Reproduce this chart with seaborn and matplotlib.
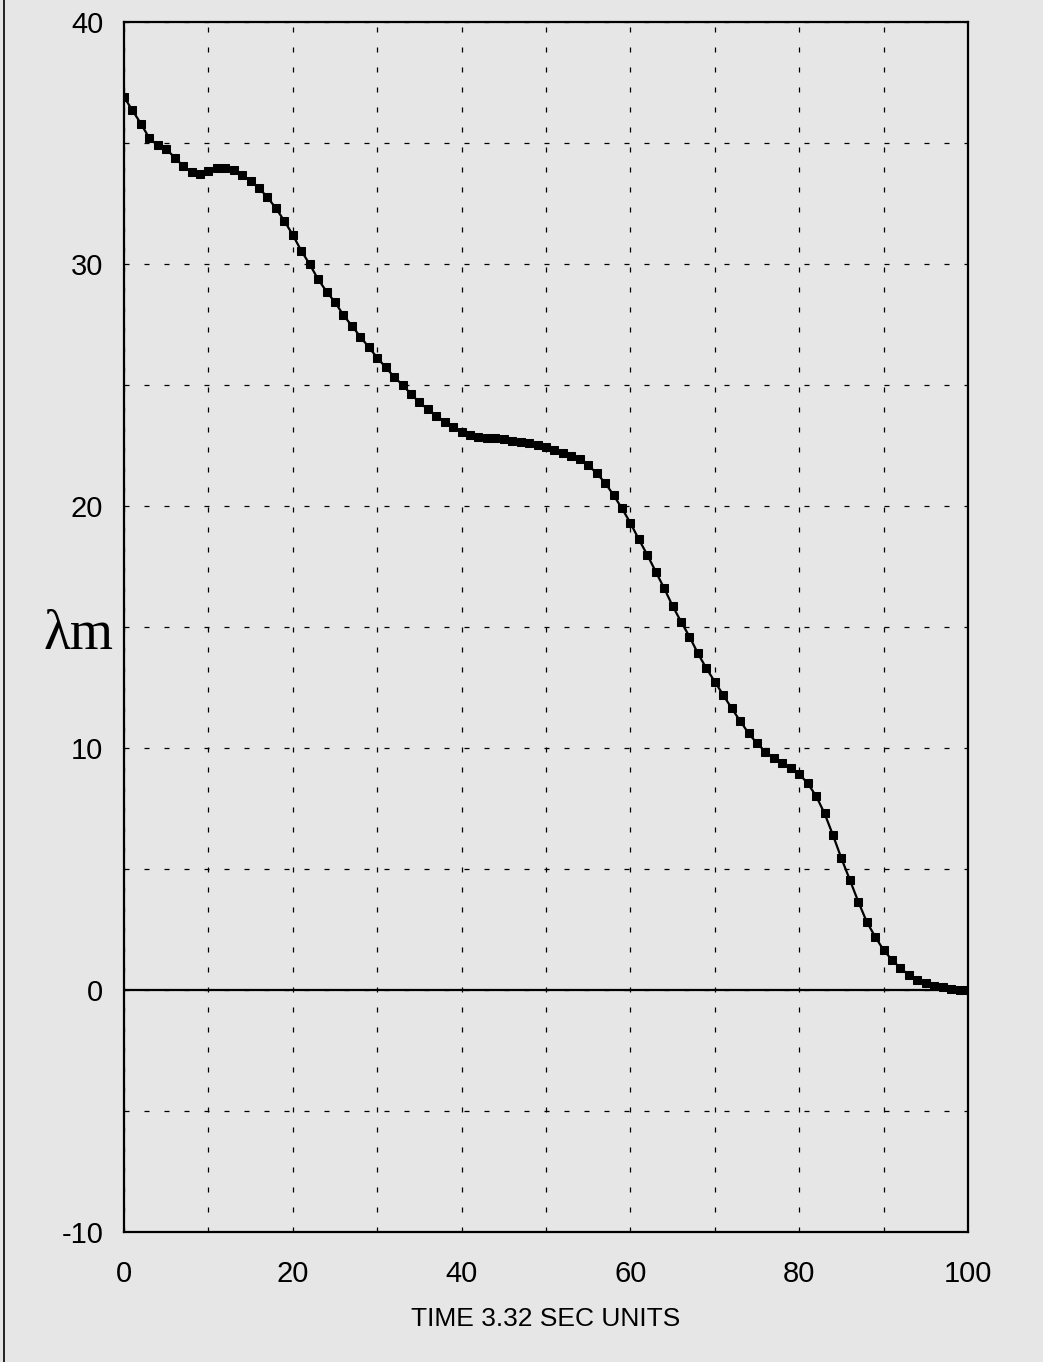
import numpy as np
import pandas as pd
import matplotlib
matplotlib.use("Agg")
import matplotlib.pyplot as plt
from matplotlib.lines import Line2D
from matplotlib.ticker import MultipleLocator
import seaborn as sns

# Time steps (units of 3.32 s) and the lambda_m trajectory
time_units = list(range(0, 101))
lambda_m = [
    36.9, 36.35, 35.8, 35.2, 34.9, 34.75, 34.4, 34.05, 33.8, 33.7,
    33.85, 33.95, 33.98, 33.88, 33.68, 33.44, 33.13, 32.76, 32.3, 31.78,
    31.2, 30.55, 29.99, 29.37, 28.86, 28.42, 27.89, 27.44, 27.0, 26.56,
    26.13, 25.73, 25.34, 25.0, 24.63, 24.28, 24.0, 23.73, 23.48, 23.28,
    23.07, 22.93, 22.87, 22.82, 22.8, 22.75, 22.7, 22.66, 22.59, 22.52,
    22.42, 22.31, 22.2, 22.07, 21.93, 21.69, 21.35, 20.96, 20.45, 19.9,
    19.3, 18.62, 17.98, 17.29, 16.6, 15.87, 15.22, 14.6, 13.91, 13.29,
    12.74, 12.19, 11.64, 11.12, 10.61, 10.19, 9.85, 9.57, 9.37, 9.16,
    8.93, 8.54, 8.02, 7.3, 6.4, 5.44, 4.55, 3.65, 2.82, 2.2,
    1.65, 1.24, 0.9, 0.62, 0.41, 0.28, 0.18, 0.11, 0.06, 0.02,
    0.0,
]
x_tick_values = [0, 20, 40, 60, 80, 100]
y_tick_values = [-10, 0, 10, 20, 30, 40]

df = pd.DataFrame({"t": time_units, "lam": lambda_m})

sns.set_theme(style="white")
plt.rcParams["font.family"] = ["Liberation Sans", "DejaVu Sans"]
plt.rcParams["axes.unicode_minus"] = False

bg = "#e6e6e6"
fig = plt.figure(figsize=(10.43, 13.62), dpi=100, facecolor=bg)
ax = fig.add_axes([124 / 1043, 1 - 1232 / 1362, 844 / 1043, 1210 / 1362])
ax.set_facecolor(bg)

sns.lineplot(data=df, x="t", y="lam", ax=ax, color="black", linewidth=1.6,
             marker="s", markersize=6.2, markeredgecolor="black",
             markerfacecolor="black", zorder=5)

ax.set_xlim(0, 100)
ax.set_ylim(-10, 40)
ax.set_xticks(x_tick_values)
ax.set_yticks(y_tick_values)
ax.xaxis.set_minor_locator(MultipleLocator(10))
ax.yaxis.set_minor_locator(MultipleLocator(5))

ax.grid(True, which="both", color="black", linewidth=0.9,
        linestyle=(0, (4, 12)))
ax.axhline(0, color="black", linewidth=1.6, zorder=3)

for side in ["left", "right", "top", "bottom"]:
    ax.spines[side].set_visible(True)
    ax.spines[side].set_color("black")
    ax.spines[side].set_linewidth(1.6)

ax.tick_params(axis="both", which="major", direction="in", length=6,
               width=1.3, colors="black", labelsize=21)
ax.tick_params(axis="x", which="major", pad=20, top=False)
ax.tick_params(axis="y", which="major", pad=15, right=False)
ax.tick_params(axis="both", which="minor", length=0)

ax.set_xlabel("TIME 3.32 SEC UNITS", fontsize=19, color="black", labelpad=14)
ax.set_ylabel("")

ax.text(-0.012, 14.1, "\u03bbm", transform=ax.get_yaxis_transform(),
        ha="right", va="baseline", fontsize=40,
        family=["Liberation Serif", "DejaVu Serif"], color="black")

# thin rule along the left edge of the sheet
fig.add_artist(Line2D([4 / 1043, 4 / 1043], [0, 1], transform=fig.transFigure,
                      color="black", linewidth=1.2))

fig.savefig("out.png", dpi=100, facecolor=bg)
